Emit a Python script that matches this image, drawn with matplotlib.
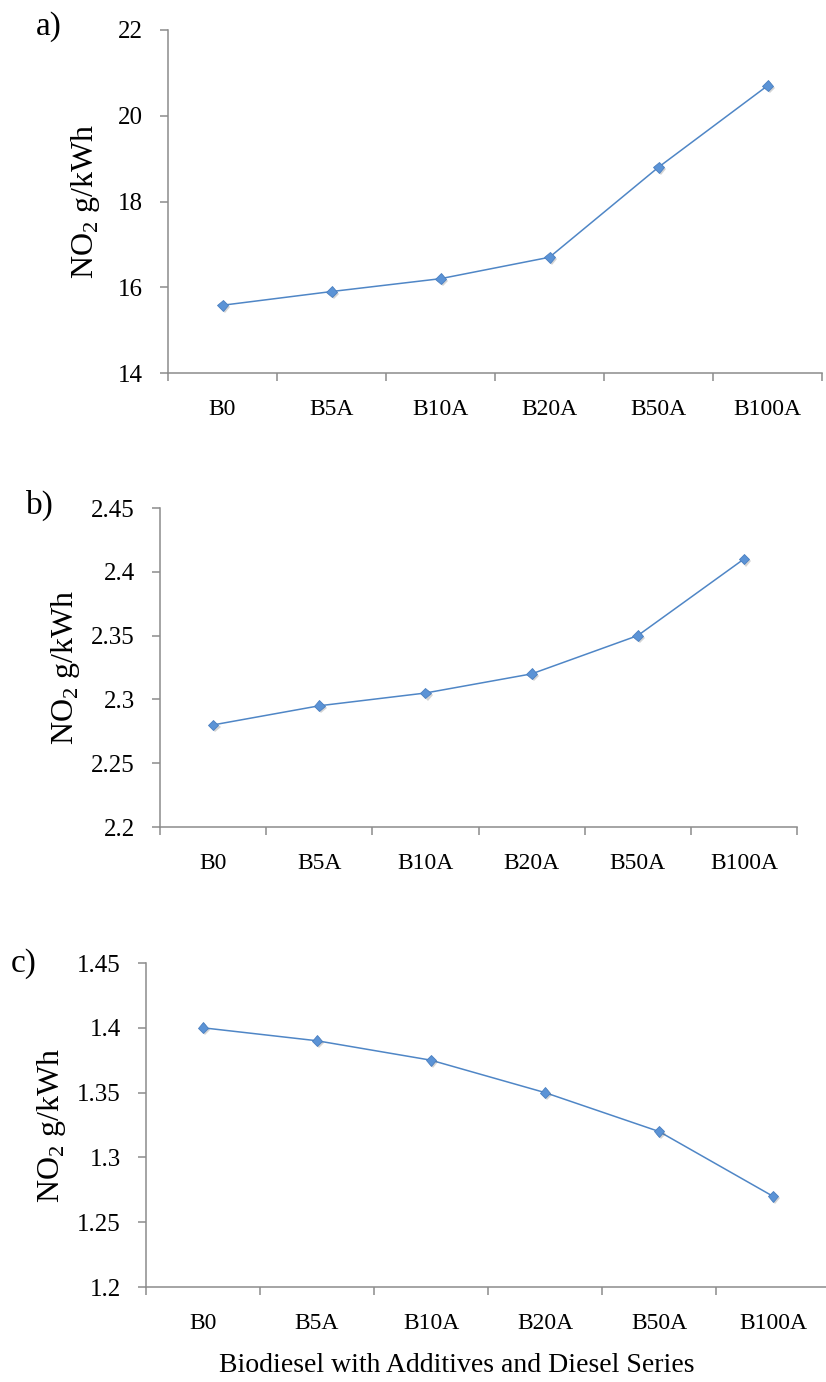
import matplotlib
matplotlib.use("Agg")
import matplotlib.pyplot as plt
import matplotlib.patheffects as pe

plt.rcParams['font.family'] = ['Liberation Serif', 'DejaVu Serif']
plt.rcParams['mathtext.fontset'] = 'custom'
plt.rcParams['mathtext.rm'] = 'Liberation Serif'

blends = ['B0', 'B5A', 'B10A', 'B20A', 'B50A', 'B100A']
no2_a = [15.58, 15.9, 16.2, 16.7, 18.8, 20.7]
no2_b = [2.28, 2.295, 2.305, 2.32, 2.35, 2.41]
no2_c = [1.40, 1.39, 1.375, 1.35, 1.32, 1.27]

ylim_a, yticks_a = (14, 22), [14, 16, 18, 20, 22]
ylim_b, yticks_b = (2.2, 2.45), [2.2, 2.25, 2.3, 2.35, 2.4, 2.45]
ylim_c, yticks_c = (1.2, 1.45), [1.2, 1.25, 1.3, 1.35, 1.4, 1.45]

W, H = 826, 1382
fig = plt.figure(figsize=(W / 100, H / 100), dpi=100)

axis_col = '#8c8c8c'
line_col = '#4f86c6'
mark_col = '#5b93d6'


def px_axes(left, right, top, bottom):
    return fig.add_axes([left / W, 1 - bottom / H, (right - left) / W, (bottom - top) / H])


def panel(ax, vals, ylim, yticks, letter, lx, ly, ylab_x):
    x = list(range(len(blends)))
    ax.plot(x, vals, color=line_col, lw=1.1, zorder=2)
    ax.plot(x, vals, 'D', ms=5.5, color=mark_col, mec='#4a7fc0', mew=0.6, zorder=3,
            path_effects=[pe.SimplePatchShadow(offset=(1.5, -1.5), shadow_rgbFace='#555555', alpha=0.25),
                          pe.Normal()])
    ax.set_xlim(-0.5, len(blends) - 0.5)
    ax.set_ylim(*ylim)
    ax.set_yticks(yticks)
    ax.set_yticklabels([f'{t:g}' for t in yticks])
    ax.set_xticks(x)
    ax.set_xticklabels(blends)
    ax.set_xticks([i - 0.5 for i in range(len(blends) + 1)], minor=True)
    ax.tick_params(axis='x', which='major', length=0, pad=19, labelsize=17)
    ax.tick_params(axis='x', which='minor', length=6, width=1.1, color=axis_col)
    ax.tick_params(axis='y', length=6, width=1.1, color=axis_col, pad=12, labelsize=18)
    for s in ['top', 'right']:
        ax.spines[s].set_visible(False)
    for s in ['left', 'bottom']:
        ax.spines[s].set_color(axis_col)
        ax.spines[s].set_linewidth(1.1)
    bb = ax.get_position()
    fig.text(ylab_x / W, bb.y0 + bb.height / 2, r'NO$_2$ g/kWh', rotation=90,
             ha='center', va='center', fontsize=23)
    fig.text(lx / W, 1 - ly / H, letter, ha='center', va='center', fontsize=24)


ax_a = px_axes(168, 822, 30, 373)
panel(ax_a, no2_a, ylim_a, yticks_a, 'a)', 49, 27, 86)

ax_b = px_axes(160, 797, 508, 827)
panel(ax_b, no2_b, ylim_b, yticks_b, 'b)', 40, 505, 65)

ax_c = px_axes(146, 830, 963, 1287)
panel(ax_c, no2_c, ylim_c, yticks_c, 'c)', 24, 964, 51)

fig.text(457 / W, 1 - 1365 / H, 'Biodiesel with Additives and Diesel Series',
         ha='center', va='center', fontsize=20)

fig.savefig('out.png', dpi=100)
